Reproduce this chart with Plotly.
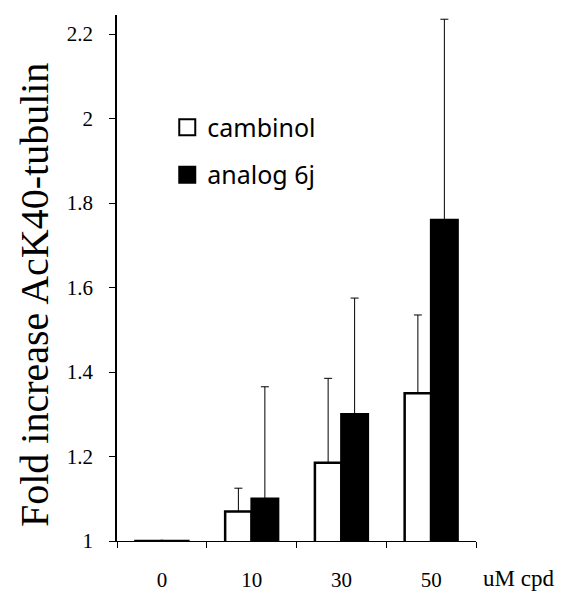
import plotly.graph_objects as go

categories = ["0", "10", "30", "50"]
cambinol = [1.0, 1.07, 1.185, 1.35]
cambinol_err = [0, 0.055, 0.20, 0.185]
analog6j = [1.0, 1.10, 1.30, 1.76]
analog6j_err = [0, 0.265, 0.275, 0.475]
ytickvals = [1, 1.2, 1.4, 1.6, 1.8, 2, 2.2]
yticktext = ["1", "1.2", "1.4", "1.6", "1.8", "2", "2.2"]

fig = go.Figure()
fig.add_trace(go.Bar(
    x=categories, y=cambinol, name="cambinol", showlegend=False,
    marker=dict(color="white", line=dict(color="black", width=2.5)),
    error_y=dict(type="data", array=cambinol_err, arrayminus=[0]*4, symmetric=False,
                 color="black", thickness=1, width=4, visible=True),
))
fig.add_trace(go.Bar(
    x=categories, y=analog6j, name="analog 6j", showlegend=False,
    marker=dict(color="black", line=dict(color="black", width=2.5)),
    error_y=dict(type="data", array=analog6j_err, arrayminus=[0]*4, symmetric=False,
                 color="black", thickness=1, width=4, visible=True),
))
# legend proxies
fig.add_trace(go.Scatter(x=[None], y=[None], mode="markers", name="cambinol",
                         legendgroup="a",
                         marker=dict(symbol="square", size=16, color="white",
                                     line=dict(color="black", width=2))))
fig.add_trace(go.Scatter(x=[None], y=[None], mode="markers", name="analog 6j",
                         legendgroup="b",
                         marker=dict(symbol="square", size=16, color="black",
                                     line=dict(color="black", width=2))))

fig.update_layout(
    width=563, height=591,
    margin=dict(l=117, r=87, t=15, b=50),
    paper_bgcolor="white", plot_bgcolor="white",
    barmode="group", bargap=0.41, bargroupgap=0,
    showlegend=True,
    legend=dict(x=0.14, y=0.83, xanchor="left", yanchor="top",
                font=dict(family="Noto Sans", size=25, color="black"),
                tracegroupgap=12, bgcolor="rgba(0,0,0,0)", itemwidth=30,
                itemsizing="trace"),
    xaxis=dict(
        type="category", range=[-0.5, 3.5], automargin=False,
        showline=True, linecolor="black", linewidth=1,
        ticks="outside", ticklen=6, tickcolor="black", tickson="boundaries",
        tickfont=dict(family="Liberation Serif", size=21, color="black"),
        ticklabelstandoff=20,
        showgrid=False, zeroline=False,
    ),
    yaxis=dict(
        range=[1, 2.245], automargin=False,
        tickvals=ytickvals, ticktext=yticktext,
        showline=True, linecolor="black", linewidth=1.5,
        ticks="outside", ticklen=6, tickcolor="black",
        tickfont=dict(family="Liberation Serif", size=21, color="black"),
        ticklabelstandoff=12,
        showgrid=False, zeroline=False,
    ),
    annotations=[
        dict(text="uM cpd", xref="paper", yref="paper", x=1.0, y=0,
             xanchor="left", yanchor="middle", showarrow=False, xshift=5, yshift=-37,
             font=dict(family="Liberation Serif", size=23, color="black")),
        dict(text="Fold increase AcK40-tubulin", xref="paper", yref="paper",
             x=0, y=0.5, xanchor="center", yanchor="middle", textangle=-90,
             xshift=-83, yshift=-17, showarrow=False,
             font=dict(family="Liberation Serif", size=40, color="black")),
    ],
)

fig.write_html("out.html")
